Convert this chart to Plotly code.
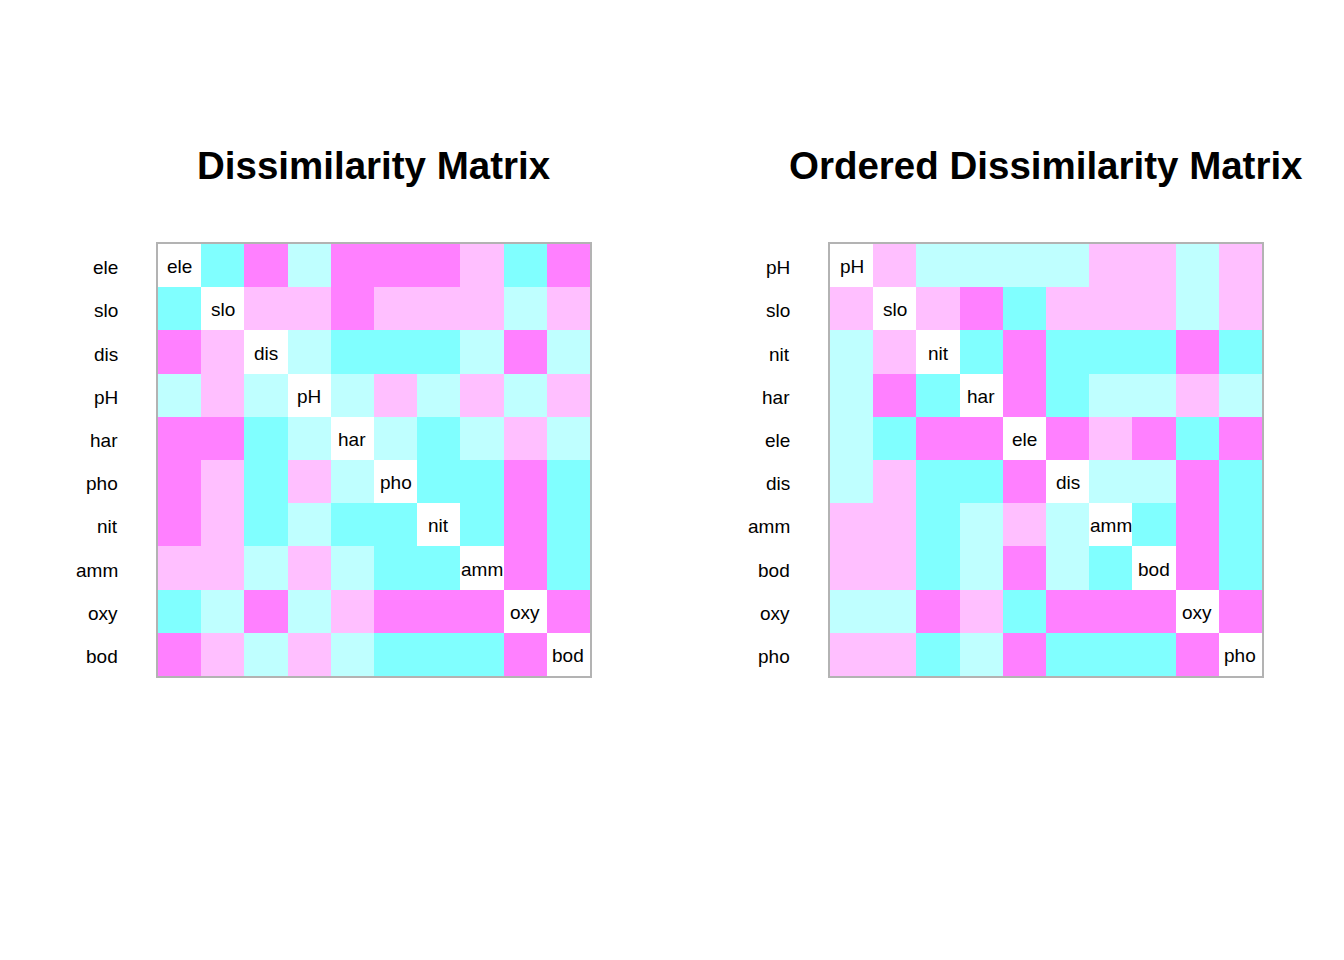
import plotly.graph_objects as go

# variables in original order
variables = ["ele", "slo", "dis", "pH", "har", "pho", "nit", "amm", "oxy", "bod"]
# reordered variables (right panel)
ordered = ["pH", "slo", "nit", "har", "ele", "dis", "amm", "bod", "oxy", "pho"]

# colour level of each cell: 0 = diagonal, 1 = cyan, 2 = light cyan, 3 = light pink, 4 = magenta
levels = [
    [0, 1, 4, 2, 4, 4, 4, 3, 1, 4],  # ele
    [1, 0, 3, 3, 4, 3, 3, 3, 2, 3],  # slo
    [4, 3, 0, 2, 1, 1, 1, 2, 4, 2],  # dis
    [2, 3, 2, 0, 2, 3, 2, 3, 2, 3],  # pH
    [4, 4, 1, 2, 0, 2, 1, 2, 3, 2],  # har
    [4, 3, 1, 3, 2, 0, 1, 1, 4, 1],  # pho
    [4, 3, 1, 2, 1, 1, 0, 1, 4, 1],  # nit
    [3, 3, 2, 3, 2, 1, 1, 0, 4, 1],  # amm
    [1, 2, 4, 2, 3, 4, 4, 4, 0, 4],  # oxy
    [4, 3, 2, 3, 2, 1, 1, 1, 4, 0],  # bod
]

titles = ["Dissimilarity Matrix", "Ordered Dissimilarity Matrix"]
level_colors = ["#FFFFFF", "#80FFFF", "#BFFFFF", "#FFBFFF", "#FF80FF"]

W, H = 1344, 960
FONT = "Liberation Sans, Arial, Helvetica, sans-serif"

idx = {v: i for i, v in enumerate(variables)}
ordered_levels = [[levels[idx[r]][idx[c]] for c in ordered] for r in ordered]

n = len(level_colors)
colorscale = []
for k, col in enumerate(level_colors):
    colorscale.append([k / n, col])
    colorscale.append([(k + 1) / n, col])

panels = [
    (variables, levels, (158, 590)),
    (ordered, ordered_levels, (830, 1262)),
]
top, bottom = 244, 676

fig = go.Figure()
annotations = []
for p, (labs, mat, (x0, x1)) in enumerate(panels):
    ax = "" if p == 0 else str(p + 1)
    m = len(labs)
    fig.add_trace(go.Heatmap(
        z=mat, x=list(range(m)), y=list(range(m)),
        colorscale=colorscale, zmin=-0.5, zmax=n - 0.5,
        showscale=False, hoverinfo="skip",
        xaxis="x" + ax, yaxis="y" + ax,
    ))
    axis_common = dict(showgrid=False, zeroline=False, showticklabels=False,
                       ticks="", showline=True, mirror=True,
                       linecolor="#B3B3B3", linewidth=2)
    fig.update_layout(**{
        "xaxis" + ax: dict(domain=[x0 / W, x1 / W], range=[-0.5, m - 0.5],
                           anchor="y" + ax, **axis_common),
        "yaxis" + ax: dict(domain=[1 - bottom / H, 1 - top / H], range=[m - 0.5, -0.5],
                           anchor="x" + ax, **axis_common),
    })
    for i, lab in enumerate(labs):
        annotations.append(dict(x=i, y=i, xref="x" + ax, yref="y" + ax, text=lab,
                                yshift=-1, showarrow=False,
                                font=dict(size=19, color="black", family=FONT)))
        annotations.append(dict(x=-0.5, y=i, xref="x" + ax, yref="y" + ax, text=lab,
                                xanchor="right", xshift=-38, yshift=-2, showarrow=False,
                                font=dict(size=19, color="black", family=FONT)))
    annotations.append(dict(x=(x0 + x1) / 2 / W, y=1 - 166 / H, xref="paper", yref="paper",
                            text="<b>" + titles[p] + "</b>", showarrow=False,
                            xanchor="center", yanchor="middle",
                            font=dict(size=38.5, color="black", family=FONT)))

fig.update_layout(width=W, height=H, margin=dict(l=0, r=0, t=0, b=0),
                  paper_bgcolor="white", plot_bgcolor="white",
                  annotations=annotations, showlegend=False)

fig.write_html("out.html")
